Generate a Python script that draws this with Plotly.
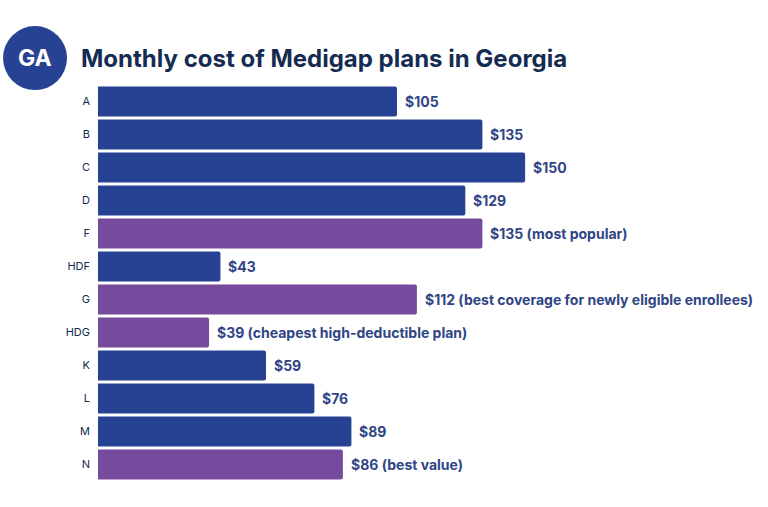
import plotly.graph_objects as go

# Plans and monthly cost, top to bottom
plans = ['A', 'B', 'C', 'D', 'F', 'HDF', 'G', 'HDG', 'K', 'L', 'M', 'N']
costs = [105, 135, 150, 129, 135, 43, 112, 39, 59, 76, 89, 86]
notes = ['', '', '', '', ' (most popular)', '',
         ' (best coverage for newly eligible enrollees)',
         ' (cheapest high-deductible plan)', '', '', '', ' (best value)']
highlighted = ['F', 'G', 'HDG', 'N']

BLUE = '#284293'
PURPLE = '#764a9c'
NAVY = '#152c52'
FONT = 'Inter, Lato, sans-serif'

bar = go.Bar(
    x=costs,
    y=plans,
    orientation='h',
    marker=dict(
        color=[PURPLE if p in highlighted else BLUE for p in plans],
        cornerradius=2,
        line_width=0,
    ),
    hoverinfo='skip',
)

fig = go.Figure(data=[bar])

# Value labels sit just past the bar ends
for plan, cost, note in zip(plans, costs, notes):
    fig.add_annotation(
        x=cost, y=plan, xref='x', yref='y',
        text=f'<b>${cost}{note}</b>',
        xanchor='left', yanchor='middle',
        xshift=6,
        showarrow=False,
        font=dict(family=FONT, size=14, color='#2f4585'),
    )

# State badge, title
fig.add_shape(
    type='circle',
    xref='paper', yref='paper',
    xsizemode='pixel', ysizemode='pixel',
    xanchor=-0.094, yanchor=1.068,
    x0=-32, x1=32, y0=-32, y1=32,
    fillcolor=BLUE, line_width=0,
)
fig.add_annotation(
    xref='paper', yref='paper', x=-0.094, y=1.068,
    text='<b>GA</b>', showarrow=False,
    xanchor='center', yanchor='middle',
    font=dict(family=FONT, size=23, color='white'),
)
fig.add_annotation(
    xref='paper', yref='paper', x=-0.028, y=1.068,
    text='<b>Monthly cost of Medigap plans in Georgia</b>', showarrow=False,
    xanchor='left', yanchor='middle',
    font=dict(family=FONT, size=24, color=NAVY),
)

fig.update_layout(
    width=768,
    height=507,
    margin=dict(l=98, r=0, t=85, b=26, autoexpand=False),
    paper_bgcolor='white',
    plot_bgcolor='white',
    bargap=0.09,
    showlegend=False,
    xaxis=dict(range=[0, 235.3], visible=False),
    yaxis=dict(
        autorange='reversed',
        showgrid=False,
        showline=False,
        ticks='',
        ticklabelstandoff=7,
        tickfont=dict(family=FONT, size=11, color=NAVY),
    ),
)

# Drop the default page margin so the badge isn't clipped on the left
fig.write_html(
    "out.html",
    config={'displayModeBar': False},
    post_script="document.body.style.margin = '0';",
)
